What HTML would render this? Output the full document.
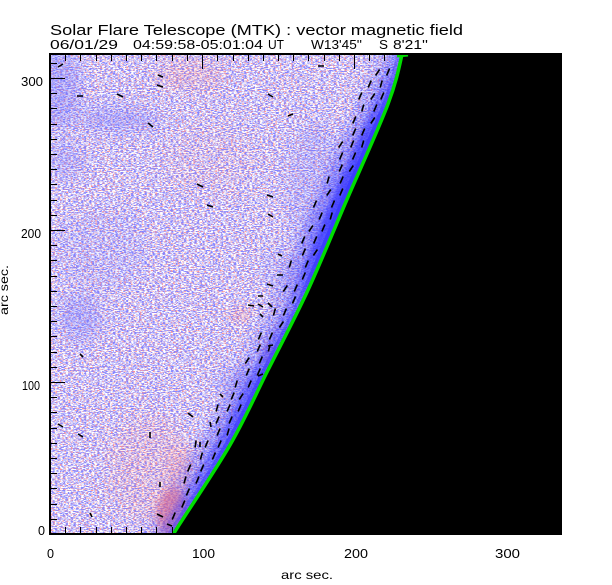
<!DOCTYPE html>
<html><head><meta charset="utf-8"><style>html,body{margin:0;padding:0;background:#fff}svg{display:block}</style></head>
<body>
<svg width="612" height="585" viewBox="0 0 612 585" xmlns="http://www.w3.org/2000/svg">
<defs>
 <clipPath id="cp"><rect x="51" y="54" width="511" height="479"/></clipPath>
 <filter id="nb" filterUnits="userSpaceOnUse" x="51" y="54" width="511" height="480" color-interpolation-filters="sRGB">
  <feTurbulence type="fractalNoise" baseFrequency="0.38 0.95" numOctaves="2" seed="4"/>
  <feColorMatrix type="matrix" values="0 0 0 0 0.52  0 0 0 0 0.52  0 0 0 0 1  7 0 0 0 -3.12"/>
 </filter>
 <filter id="np" filterUnits="userSpaceOnUse" x="51" y="54" width="511" height="480" color-interpolation-filters="sRGB">
  <feTurbulence type="fractalNoise" baseFrequency="0.45 0.95" numOctaves="2" seed="11"/>
  <feColorMatrix type="matrix" values="0 0 0 0 1  0 0 0 0 0.58  0 0 0 0 0.58  0 7 0 0 -3.95"/>
 </filter>
 <filter id="b8" x="-60%" y="-60%" width="220%" height="220%"><feGaussianBlur stdDeviation="8"/></filter>
 <filter id="b4" x="-60%" y="-60%" width="220%" height="220%"><feGaussianBlur stdDeviation="4"/></filter>
 <filter id="bb5" x="-50%" y="-20%" width="200%" height="140%"><feGaussianBlur stdDeviation="5"/></filter>
 <filter id="bb2" x="-50%" y="-20%" width="200%" height="140%"><feGaussianBlur stdDeviation="2.5"/></filter>
 <linearGradient id="bandg" gradientUnits="userSpaceOnUse" x1="0" y1="54" x2="0" y2="534">
  <stop offset="0" stop-color="#3a3aff" stop-opacity="0.3"/>
  <stop offset="0.08" stop-color="#3a3aff" stop-opacity="0.55"/>
  <stop offset="0.17" stop-color="#3a3aff" stop-opacity="0.9"/>
  <stop offset="0.33" stop-color="#3a3aff" stop-opacity="1"/>
  <stop offset="0.44" stop-color="#3a3aff" stop-opacity="0.8"/>
  <stop offset="0.52" stop-color="#3a3aff" stop-opacity="0.45"/>
  <stop offset="0.63" stop-color="#3a3aff" stop-opacity="0.6"/>
  <stop offset="0.75" stop-color="#3a3aff" stop-opacity="0.75"/>
  <stop offset="0.87" stop-color="#3a3aff" stop-opacity="0.6"/>
  <stop offset="1" stop-color="#3a3aff" stop-opacity="0.35"/>
 </linearGradient>
 <path id="limb" d="M403,50 C400,62.3 397.7,78.3 388,104 C378.3,129.7 358.3,173 345,204 C331.7,235 320.8,262.3 308,290 C295.2,317.7 281,344.2 268,370 C255,395.8 245.7,417.8 230,445 C214.3,472.2 184.3,516.3 174,533 L168,545"/>
</defs>

<rect width="612" height="585" fill="#fff"/>

<g clip-path="url(#cp)">
 <rect x="51" y="54" width="511" height="480" fill="#fff"/>
 <rect x="51" y="54" width="511" height="480" fill="#000" filter="url(#nb)"/>
 <rect x="51" y="54" width="511" height="480" fill="#000" filter="url(#np)"/>

 <!-- large scale blue patches -->
 <g filter="url(#b8)" fill="#6f6fff">
  <ellipse cx="58" cy="88" rx="22" ry="42" opacity="0.35"/>
  <ellipse cx="118" cy="120" rx="40" ry="11" opacity="0.35"/>
  <ellipse cx="65" cy="160" rx="18" ry="18" opacity="0.25"/>
  <ellipse cx="80" cy="318" rx="22" ry="24" opacity="0.3"/>
  <ellipse cx="235" cy="382" rx="20" ry="13" opacity="0.25"/>
  <ellipse cx="100" cy="250" rx="50" ry="40" opacity="0.1"/>
  <ellipse cx="315" cy="190" rx="28" ry="70" opacity="0.18"/>
  <ellipse cx="280" cy="270" rx="20" ry="25" opacity="0.15"/>
 </g>
 <!-- pink patches -->
 <g filter="url(#b8)" fill="#ff8080">
  <ellipse cx="190" cy="75" rx="35" ry="14" opacity="0.18"/>
  <ellipse cx="150" cy="470" rx="40" ry="55" opacity="0.13"/>
  <ellipse cx="180" cy="470" rx="12" ry="25" opacity="0.22"/>
  <ellipse cx="210" cy="160" rx="45" ry="35" opacity="0.06"/>
 </g>
 <g filter="url(#b4)" fill="#ff7070">
  <ellipse cx="240" cy="315" rx="10" ry="8" opacity="0.2"/>
  <ellipse cx="271" cy="355" rx="6" ry="13" opacity="0.3"/>
  <ellipse cx="173" cy="514" rx="16" ry="26" opacity="0.55"/>
 </g>

 <!-- blue band along limb -->
 <use href="#limb" fill="none" stroke="url(#bandg)" stroke-width="56" opacity="0.42" filter="url(#bb5)"/>
 <use href="#limb" fill="none" stroke="url(#bandg)" stroke-width="28" opacity="0.8" filter="url(#bb2)"/>
 <use href="#limb" fill="none" stroke="url(#bandg)" stroke-width="11"/>

 <!-- vectors -->
 <path fill="none" stroke="#000" stroke-width="1.6" d="
 M386.6,75.5l3,-7M375.6,75.5l4,-6
 M380.2,87.5l2,-7M368.2,87.5l3,-7
 M380.8,99.5l3,-7M370.8,99.5l4,-6M358.8,99.5l3,-7
 M373.8,111.5l3,-7M361.8,111.5l2,-7
 M370.8,123.5l4,-6M352.8,123.5l3,-7
 M361.7,135.5l3,-7M352.7,135.5l3,-7
 M361.7,147.5l2,-7M350.7,147.5l3,-7M338.7,147.5l4,-6
 M352.6,159.5l3,-7M339.6,159.5l3,-7
 M349.3,171.5l4,-6M339.3,171.5l3,-7
 M340.1,183.5l3,-7M327.1,183.5l2,-7
 M339.8,195.5l3,-7M326.8,195.5l4,-6
 M331.5,207.5l3,-7M313.5,207.5l3,-7
 M330.2,219.5l2,-7M319.2,219.5l3,-7
 M321.9,231.5l3,-7M308.9,231.5l4,-6
 M313.7,243.5l3,-7M301.7,243.5l3,-7
 M313.4,255.5l4,-6M302.4,255.5l3,-7
 M305.3,267.5l3,-7M289.3,267.5l2,-7
 M302.3,279.5l3,-7
 M294.3,291.5l3,-7M283.3,291.5l4,-6
 M292.5,303.5l3,-7
 M283.4,315.5l3,-7M273.4,315.5l2,-7
 M279.4,327.5l4,-6
 M269.4,339.5l3,-7M258.4,339.5l3,-7
 M268.3,351.5l2,-7M257.3,351.5l3,-7
 M259.3,363.5l3,-7M245.3,363.5l4,-6
 M257.3,375.5l3,-7M246.3,375.5l3,-7
 M248.2,387.5l3,-7M235.2,387.5l2,-7
 M239.2,399.5l4,-6M231.2,399.5l3,-7
 M238.1,411.5l3,-7M227.1,411.5l3,-7M216.1,411.5l2,-7
 M229.1,423.5l3,-7M216.1,423.5l3,-7
 M227.1,435.5l2,-7M217.1,435.5l3,-7
 M218.1,447.5l3,-7M205.1,447.5l3,-7M195.1,447.5l1,-7
 M212.4,459.5l3,-7M200.4,459.5l2,-7
 M200.7,471.5l3,-7M187.7,471.5l3,-7
 M196,483.5l3,-7M184,483.5l2,-7
 M186.4,495.5l3,-7
 M181.8,507.5l3,-7
 M172.2,519.5l3,-7
 M58,67L63,64 M77,96L83,96 M117,94L123,97 M158,75L163,77 M157,85L163,87
 M148,123L153,127 M268,94L273,97 M288,116L293,114 M197,184L203,187
 M207,205L213,207 M267,195L273,197 M268,214L273,217 M278,254L282,256
 M277,275L283,275 M267,284L273,286 M258,296L263,296 M248,305L254,306
 M258,304L263,307 M268,303L272,307 M260,314L263,317 M268,346L273,345
 M258,376L263,374 M220,394L223,397 M188,413L193,417 M80,354L83,357
 M58,424L63,427 M78,434L83,437 M150,432L150,438 M210,422L211,427
 M200,442L200,447 M160,482L160,487 M90,513L92,517 M157,514L163,517
 M167,524L172,526 M318,66L324,66"/>

 <!-- off-limb black -->
 <path d="M403,50 C400,62.3 397.7,78.3 388,104 C378.3,129.7 358.3,173 345,204 C331.7,235 320.8,262.3 308,290 C295.2,317.7 281,344.2 268,370 C255,395.8 245.7,417.8 230,445 C214.3,472.2 184.3,516.3 174,533 L168,545 L570,545 L570,50 Z" fill="#000"/>
 <!-- limb line -->
 <use href="#limb" fill="none" stroke="#00dd00" stroke-width="3.5"/>
 <path d="M397,56 L408,55" stroke="#00dd00" stroke-width="3"/>
</g>

<!-- axes -->
<g fill="#000" shape-rendering="crispEdges">
 <rect x="49" y="53" width="2" height="482"/>
 <rect x="49" y="533" width="513" height="2"/>
 <rect x="49" y="53" width="513" height="2"/>
</g>
<path fill="none" stroke="#000" stroke-width="1" shape-rendering="crispEdges" d="
M51,519.5h6M51,504.5h6M51,488.5h6M51,473.5h6M51,458.5h6M51,443.5h6M51,428.5h6M51,412.5h6M51,397.5h6M51,382.5h14
M51,367.5h6M51,352.5h6M51,336.5h6M51,321.5h6M51,306.5h6M51,291.5h6M51,276.5h6M51,260.5h6M51,245.5h6M51,230.5h14
M51,215.5h6M51,200.5h6M51,184.5h6M51,169.5h6M51,154.5h6M51,139.5h6M51,124.5h6M51,108.5h6M51,93.5h6M51,78.5h14M51,63.5h6
M65.5,533v-6M80.5,533v-6M96.5,533v-6M111.5,533v-6M126.5,533v-6M141.5,533v-6M156.5,533v-6M172.5,533v-6M187.5,533v-6M202.5,533v-14
M217.5,533v-6M233.5,533v-6M248.5,533v-6M263.5,533v-6M278.5,533v-6M293.5,533v-6M308.5,533v-6M324.5,533v-6M339.5,533v-6M354.5,533v-14
M65.5,55v6M80.5,55v6M96.5,55v6M111.5,55v6M126.5,55v6M141.5,55v6M156.5,55v6M172.5,55v6M187.5,55v6M202.5,55v14
M217.5,55v6M233.5,55v6M248.5,55v6M263.5,55v6M278.5,55v6M293.5,55v6M308.5,55v6M324.5,55v6M339.5,55v6M354.5,55v14
M369.5,55v6M384.5,55v6"/>

<!-- titles -->
<g font-family="Liberation Sans, DejaVu Sans, sans-serif" fill="#000">
 <text x="50" y="35" font-size="15" textLength="413" lengthAdjust="spacingAndGlyphs">Solar Flare Telescope (MTK) : vector magnetic field</text>
 <text x="50" y="49" font-size="12.5" textLength="68" lengthAdjust="spacingAndGlyphs">06/01/29</text>
 <text x="133" y="49" font-size="12.5" textLength="130" lengthAdjust="spacingAndGlyphs">04:59:58-05:01:04</text>
 <text x="268" y="49" font-size="12.5" textLength="16" lengthAdjust="spacingAndGlyphs">UT</text>
 <text x="311" y="49" font-size="12.5" textLength="51" lengthAdjust="spacingAndGlyphs">W13'45''</text>
 <text x="379" y="49" font-size="12.5" textLength="9" lengthAdjust="spacingAndGlyphs">S</text>
 <text x="393" y="49" font-size="12.5" textLength="35" lengthAdjust="spacingAndGlyphs">8'21''</text>

 <text x="21" y="86" font-size="13" textLength="22" lengthAdjust="spacingAndGlyphs">300</text>
 <text x="21" y="238" font-size="13" textLength="20" lengthAdjust="spacingAndGlyphs">200</text>
 <text x="22" y="390" font-size="13" textLength="18" lengthAdjust="spacingAndGlyphs">100</text>
 <text x="38" y="535" font-size="13" textLength="7" lengthAdjust="spacingAndGlyphs">0</text>

 <text x="47" y="558" font-size="13" textLength="7" lengthAdjust="spacingAndGlyphs">0</text>
 <text x="192" y="558" font-size="13" textLength="23" lengthAdjust="spacingAndGlyphs">100</text>
 <text x="344" y="558" font-size="13" textLength="24" lengthAdjust="spacingAndGlyphs">200</text>
 <text x="495" y="558" font-size="13" textLength="25" lengthAdjust="spacingAndGlyphs">300</text>

 <text x="281" y="579" font-size="12" textLength="52" lengthAdjust="spacingAndGlyphs">arc sec.</text>
 <text transform="translate(8,315) rotate(-90)" x="0" y="0" font-size="12" textLength="50" lengthAdjust="spacingAndGlyphs">arc sec.</text>
</g>
</svg>
</body></html>
